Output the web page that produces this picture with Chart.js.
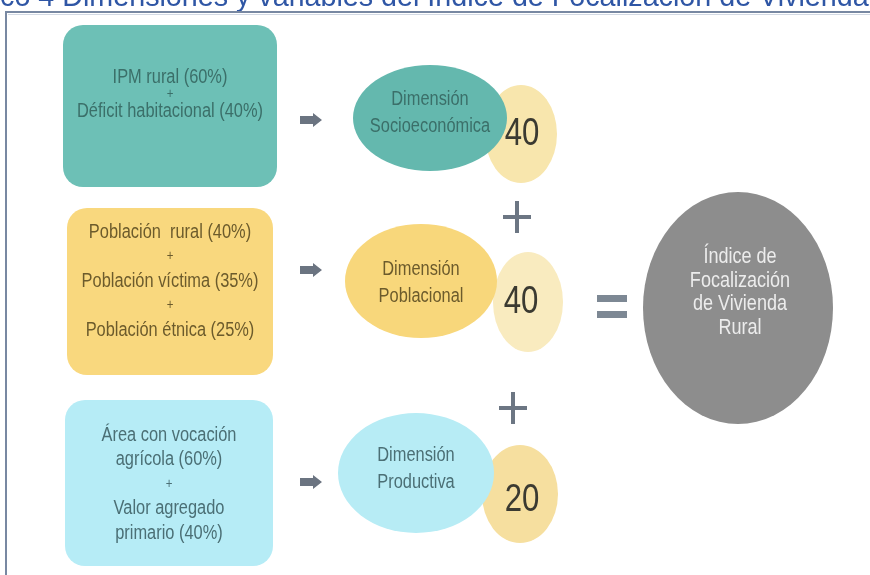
<!DOCTYPE html>
<html>
<head>
<meta charset="utf-8">
<script src="https://cdn.jsdelivr.net/npm/chart.js@4.4.1/dist/chart.umd.min.js"></script>
<style>
  html, body { margin: 0; padding: 0; background: #fff; overflow: hidden; }
  #wrap { width: 870px; height: 575px; }
</style>
</head>
<body>
<div id="wrap"><canvas id="diagram" width="870" height="575"></canvas></div>
<script>
/* ---- data ---- */
const title = 'Gráfico 4 Dimensiones y variables del Índice de Focalización de Vivienda Rural';
const dimensions = ['Dimensión\nSocioeconómica', 'Dimensión\nPoblacional', 'Dimensión\nProductiva'];
const weights = [40, 40, 20];
const variableNames = [
  ['IPM rural', 'Déficit habitacional'],
  ['Población  rural', 'Población víctima', 'Población étnica'],
  ['Área con vocación\nagrícola', 'Valor agregado\nprimario'],
];
const variableShares = [[60, 40], [40, 35, 25], [60, 40]];
const indexLabel = 'Índice de\nFocalización\nde Vivienda\nRural';

/* ---- layout (diagram units = page px, mapped through the chart scales) ---- */
const ROWS = [
  { box: [63, 25, 277, 187], textY: 77, step: 17, ell: [430, 118, 77, 53], ellTextY: 113,
    wt: [521, 134, 36, 49], wtText: [522, 133], arrowY: 120,
    fill: '#6dc0b6', ellFill: '#64b8ae', wtFill: '#f8e6ad', ink: '#3b6f69' },
  { box: [67, 208, 273, 375], textY: 232, step: 24.5, ell: [421, 281, 76, 57], ellTextY: 283,
    wt: [528, 302, 35, 50], wtText: [521, 301], arrowY: 270,
    fill: '#f9d87e', ellFill: '#f8d77b', wtFill: '#f9ebbf', ink: '#6c5b2c' },
  { box: [65, 400, 273, 566], textY: 435, step: 24.5, ell: [416, 473, 78, 60], ellTextY: 469,
    wt: [520, 494, 38, 49], wtText: [522, 499], arrowY: 482,
    fill: '#b6ecf6', ellFill: '#b7ecf5', wtFill: '#f6df9f', ink: '#4b6f75' },
];
const PLUS = [[517, 217], [513, 408]];
const EQUALS = [612, 306];
const INDEX = { ell: [738, 308, 95, 116], textY: 257, step: 23.7 };
const FONT = "'Liberation Sans', Arial, sans-serif";
const SQUEEZE = 0.82;   // no narrow face installed, so squeeze the regular one

function boxLines(i) {
  const out = [];
  variableNames[i].forEach((name, j) => {
    if (j > 0) out.push('+');
    const parts = name.split('\n');
    parts[parts.length - 1] += ' (' + variableShares[i][j] + '%)';
    out.push(...parts);
  });
  return out;
}

function narrowText(ctx, text, x, y, size) {
  ctx.save();
  ctx.translate(x, y);
  ctx.scale(SQUEEZE, 1);
  ctx.font = size + 'px ' + FONT;
  ctx.textAlign = 'center';
  ctx.textBaseline = 'middle';
  ctx.fillText(text, 0, 0);
  ctx.restore();
}

const diagramPlugin = {
  id: 'diagram',
  afterDraw(chart) {
    const ctx = chart.ctx;
    const sx = chart.scales.x, sy = chart.scales.y;
    const X = v => sx.getPixelForValue(v);
    const Y = v => sy.getPixelForValue(v);
    const W = v => sx.getPixelForValue(v) - sx.getPixelForValue(0);
    const H = v => sy.getPixelForValue(v) - sy.getPixelForValue(0);

    ctx.save();

    // title, cut off at the top of the picture
    ctx.font = '24px ' + FONT;
    const lead = ctx.measureText('Gráfi').width;
    const shown = ctx.measureText('co 4 Dimensiones y variables del Índice de Focalización de Vivienda').width;
    const k = 868 / shown;
    ctx.font = (24 * k).toFixed(1) + 'px ' + FONT;
    ctx.textAlign = 'left';
    ctx.textBaseline = 'alphabetic';
    ctx.fillStyle = '#2f56a5';
    ctx.fillText(title, X(0) - lead * k, Y(6));

    // frame
    ctx.strokeStyle = '#7888a2';
    ctx.lineWidth = 2;
    ctx.beginPath();
    ctx.moveTo(X(6), Y(575)); ctx.lineTo(X(6), Y(12)); ctx.lineTo(X(870), Y(12));
    ctx.stroke();
    ctx.strokeStyle = '#d3dae5';
    ctx.lineWidth = 1;
    ctx.beginPath();
    ctx.moveTo(X(8), Y(14.5)); ctx.lineTo(X(870), Y(14.5));
    ctx.stroke();

    ROWS.forEach((r, i) => {
      // variable box
      const [x0, y0, x1, y1] = r.box;
      ctx.fillStyle = r.fill;
      ctx.beginPath();
      ctx.roundRect(X(x0), Y(y0), W(x1 - x0), H(y1 - y0), 20);
      ctx.fill();

      ctx.fillStyle = r.ink;
      const cx = X((x0 + x1) / 2);
      boxLines(i).forEach((ln, j) => {
        narrowText(ctx, ln, cx, Y(r.textY + j * r.step), ln === '+' ? 14 : 20);
      });

      // arrow
      const ay = r.arrowY;
      ctx.fillStyle = '#6b7481';
      ctx.beginPath();
      ctx.moveTo(X(300), Y(ay - 4)); ctx.lineTo(X(313), Y(ay - 4)); ctx.lineTo(X(313), Y(ay - 7));
      ctx.lineTo(X(322), Y(ay)); ctx.lineTo(X(313), Y(ay + 7)); ctx.lineTo(X(313), Y(ay + 4));
      ctx.lineTo(X(300), Y(ay + 4)); ctx.closePath();
      ctx.fill();

      // weight ellipse (behind) and dimension ellipse
      ctx.fillStyle = r.wtFill;
      ctx.beginPath();
      ctx.ellipse(X(r.wt[0]), Y(r.wt[1]), W(r.wt[2]), H(r.wt[3]), 0, 0, Math.PI * 2);
      ctx.fill();
      ctx.fillStyle = r.ellFill;
      ctx.beginPath();
      ctx.ellipse(X(r.ell[0]), Y(r.ell[1]), W(r.ell[2]), H(r.ell[3]), 0, 0, Math.PI * 2);
      ctx.fill();

      ctx.fillStyle = r.ink;
      const dl = dimensions[i].split('\n');
      dl.forEach((ln, j) => {
        narrowText(ctx, ln, X(r.ell[0]), Y(r.ellTextY + (j - (dl.length - 1) / 2) * 27), 20);
      });

      ctx.fillStyle = '#3b3a31';
      narrowText(ctx, String(weights[i]), X(r.wtText[0]), Y(r.wtText[1] + 2), 38);
    });

    // plus signs between weights
    ctx.strokeStyle = '#6c7683';
    ctx.lineWidth = 4;
    PLUS.forEach(([px, py]) => {
      ctx.beginPath();
      ctx.moveTo(X(px - 14), Y(py)); ctx.lineTo(X(px + 14), Y(py));
      ctx.moveTo(X(px), Y(py - 16)); ctx.lineTo(X(px), Y(py + 16));
      ctx.stroke();
    });

    // equals sign
    ctx.fillStyle = '#7d8894';
    ctx.fillRect(X(EQUALS[0] - 15), Y(EQUALS[1] - 11), W(30), H(7));
    ctx.fillRect(X(EQUALS[0] - 15), Y(EQUALS[1] + 5), W(30), H(7));

    // index ellipse
    const e = INDEX.ell;
    ctx.fillStyle = '#8d8d8d';
    ctx.beginPath();
    ctx.ellipse(X(e[0]), Y(e[1]), W(e[2]), H(e[3]), 0, 0, Math.PI * 2);
    ctx.fill();
    ctx.fillStyle = '#ececec';
    indexLabel.split('\n').forEach((ln, j) => {
      narrowText(ctx, ln, X(e[0] + 2), Y(INDEX.textY + j * INDEX.step), 22);
    });

    ctx.restore();
  },
};

new Chart(document.getElementById('diagram'), {
  type: 'scatter',
  data: { datasets: [{ data: [] }] },
  options: {
    responsive: false,
    animation: false,
    layout: { padding: 0 },
    plugins: { legend: { display: false }, tooltip: { enabled: false } },
    scales: {
      x: { type: 'linear', min: 0, max: 870, display: false },
      y: { type: 'linear', min: 0, max: 575, reverse: true, display: false },
    },
  },
  plugins: [diagramPlugin],
});
</script>
</body>
</html>
